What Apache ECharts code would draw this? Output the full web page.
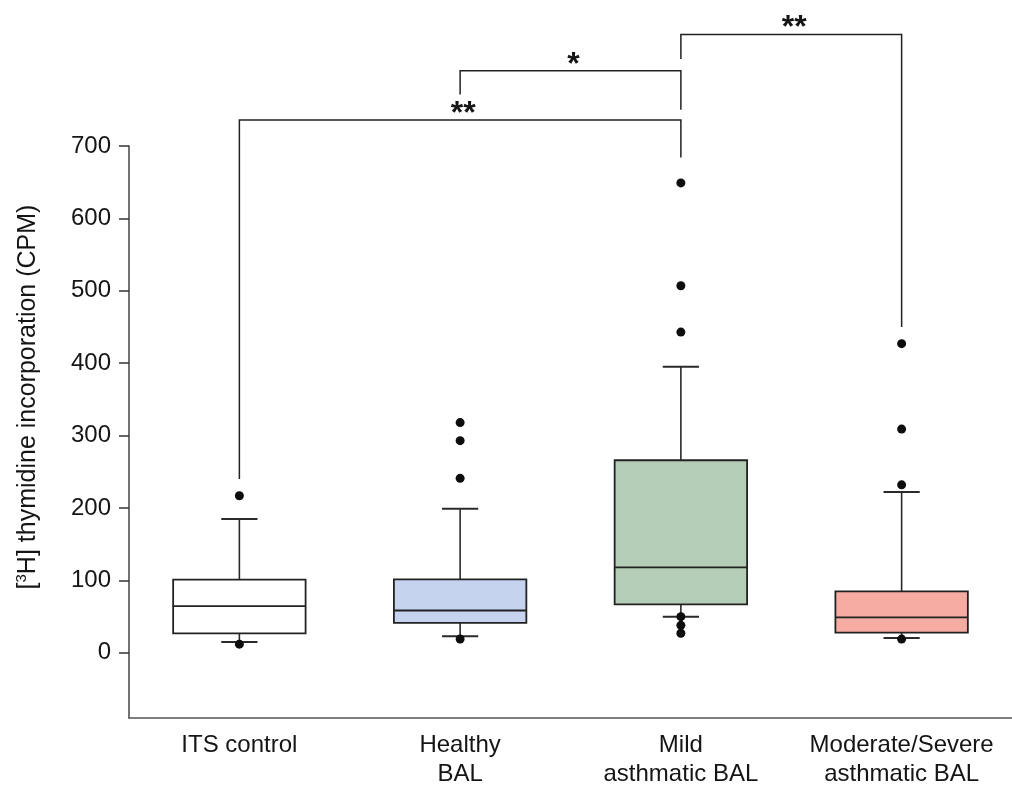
<!DOCTYPE html>
<html>
<head>
<meta charset="utf-8">
<script src="https://cdn.jsdelivr.net/npm/echarts@6/dist/echarts.min.js"></script>
<style>
  html, body { margin: 0; padding: 0; background: #ffffff; }
  #chart { width: 1012px; height: 789px; }
</style>
</head>
<body>
<div id="chart"></div>
<script>
// Groups on the x axis
const categories = ['ITS control', 'Healthy\nBAL', 'Mild\nasthmatic BAL', 'Moderate/Severe\nasthmatic BAL'];

// Box-plot statistics per group (CPM)
const whiskerLow  = [15, 23, 50, 20.5];
const quartile1   = [27, 41.5, 67, 28];
const medians     = [64.5, 58.5, 118, 49];
const quartile3   = [101, 101.5, 266, 85];
const whiskerHigh = [185, 199, 395, 222];

// Points outside the whiskers, one list per group
const outliers = [
  [217, 12],
  [318, 293, 241, 19],
  [649, 507, 443, 50, 38, 27],
  [427, 309, 232, 19]
];

// Y tick values
const yTicks = [0, 100, 200, 300, 400, 500, 600, 700];

// Significance brackets: group indices, bar level and the lower end of each leg
const bracketFrom    = [0, 1, 2];
const bracketTo      = [2, 2, 3];
const bracketLevel   = [736, 804, 854];
const bracketFromEnd = [240, 771, 820];
const bracketToEnd   = [684, 750, 450];
const bracketText    = ['**', '*', '**'];

// Fill colour for each box
const boxFill = ['#ffffff', '#c5d3ee', '#b3cdb7', '#f6aca2'];

const FONT = '"Liberation Sans", Arial, Helvetica, sans-serif';
const INK = '#151515';

const boxData = categories.map((_, i) =>
  [i, whiskerLow[i], quartile1[i], medians[i], quartile3[i], whiskerHigh[i]]);

const outlierData = [];
outliers.forEach((list, i) => list.forEach(v => outlierData.push([i, v])));

const bracketData = bracketFrom.map((f, i) =>
  [f, bracketTo[i], bracketLevel[i], bracketFromEnd[i], bracketToEnd[i]]);

function renderBox(params, api) {
  const c = api.value(0);
  const x = api.coord([c, 0])[0];
  const band = api.size([1, 0])[0];
  const half = band * 0.3;
  const capHalf = band * 0.082;
  const yLow = api.coord([c, api.value(1)])[1];
  const yQ1 = api.coord([c, api.value(2)])[1];
  const yMed = api.coord([c, api.value(3)])[1];
  const yQ3 = api.coord([c, api.value(4)])[1];
  const yHigh = api.coord([c, api.value(5)])[1];
  const line = { stroke: '#2a2a2a', lineWidth: 1.6 };
  const cap = { stroke: '#2a2a2a', lineWidth: 2 };
  return {
    type: 'group',
    children: [
      { type: 'line', shape: { x1: x, y1: yQ3, x2: x, y2: yHigh }, style: line },
      { type: 'line', shape: { x1: x - capHalf, y1: yHigh, x2: x + capHalf, y2: yHigh }, style: cap },
      { type: 'line', shape: { x1: x, y1: yQ1, x2: x, y2: yLow }, style: line },
      { type: 'line', shape: { x1: x - capHalf, y1: yLow, x2: x + capHalf, y2: yLow }, style: cap },
      { type: 'rect', shape: { x: x - half, y: yQ3, width: half * 2, height: yQ1 - yQ3 },
        style: { fill: boxFill[params.dataIndex], stroke: '#222', lineWidth: 1.8 } },
      { type: 'line', shape: { x1: x - half, y1: yMed, x2: x + half, y2: yMed }, style: { stroke: '#222', lineWidth: 1.8 } }
    ]
  };
}

function renderBracket(params, api) {
  const a = api.value(0), b = api.value(1);
  const level = api.value(2);
  const pA = api.coord([a, level]);
  const pB = api.coord([b, level]);
  const endA = api.coord([a, api.value(3)]);
  const endB = api.coord([b, api.value(4)]);
  return {
    type: 'group',
    children: [
      { type: 'polyline',
        shape: { points: [[endA[0], endA[1]], [pA[0], pA[1]], [pB[0], pB[1]], [endB[0], endB[1]]] },
        style: { stroke: '#222', lineWidth: 1.5, fill: null } },
      { type: 'text',
        x: (pA[0] + pB[0]) / 2 + 3, y: pA[1] - 6,
        style: { text: bracketText[params.dataIndex], fill: INK, font: 'bold 32px ' + FONT,
                 align: 'center', verticalAlign: 'middle' } }
    ]
  };
}

const chart = echarts.init(document.getElementById('chart'), null, { renderer: 'canvas' });

chart.setOption({
  backgroundColor: '#ffffff',
  animation: false,
  textStyle: { fontFamily: FONT },
  grid: { left: 129, right: 0, top: 146, bottom: 70, containLabel: false },
  xAxis: {
    type: 'category',
    data: categories,
    boundaryGap: true,
    axisLine: { onZero: false, lineStyle: { color: '#555', width: 1.5 } },
    axisTick: { alignWithLabel: true, length: 9, lineStyle: { color: '#333', width: 1.5 } },
    axisLabel: { interval: 0, fontSize: 24, lineHeight: 29, color: INK, margin: 13, fontFamily: FONT },
    splitLine: { show: false }
  },
  yAxis: {
    type: 'value',
    min: -90,
    max: 700,
    axisLine: { show: true, onZero: false, lineStyle: { color: '#444', width: 1.5 } },
    axisTick: { show: true, customValues: yTicks, length: 10, lineStyle: { color: '#333', width: 1.5 } },
    axisLabel: { customValues: yTicks, fontSize: 24, color: INK, margin: 18, fontFamily: FONT },
    splitLine: { show: false },
    name: '[{sup|3}H] thymidine incorporation (CPM)',
    nameLocation: 'middle',
    nameRotate: 90,
    nameGap: 87,
    nameTextStyle: {
      fontSize: 25, color: INK, fontFamily: FONT, padding: [0, 0, 0, 70],
      rich: { sup: { fontSize: 15, padding: [0, 0, 13, 0], fontFamily: FONT, color: INK } }
    }
  },
  series: [
    {
      type: 'custom',
      name: 'boxes',
      renderItem: renderBox,
      data: boxData,
      encode: { x: 0, y: [1, 2, 3, 4, 5] },
      z: 2
    },
    {
      type: 'scatter',
      name: 'outliers',
      data: outlierData,
      symbol: 'circle',
      symbolSize: 9,
      itemStyle: { color: '#0d0d0d', opacity: 1 },
      z: 3
    },
    {
      type: 'custom',
      name: 'brackets',
      renderItem: renderBracket,
      data: bracketData,
      encode: { x: [0, 1], y: [2, 3, 4] },
      clip: false,
      z: 4
    }
  ]
});
</script>
</body>
</html>
